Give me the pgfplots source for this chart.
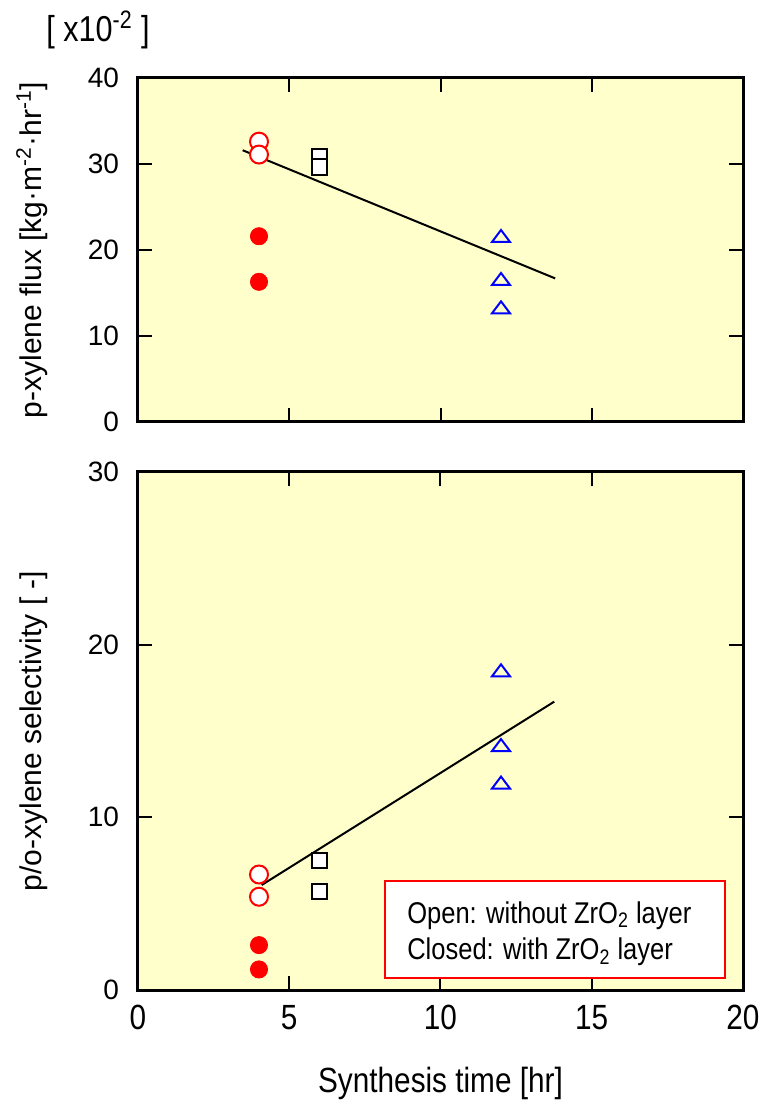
\documentclass[border=0pt]{standalone}
\usepackage{pgfplots}
\pgfplotsset{compat=1.18}
\usepackage{fontspec}
\setmainfont{Liberation Sans}
\newfontfamily\narrowfont{Liberation Sans}[FakeStretch=0.85]
\definecolor{bgyellow}{RGB}{255,255,204}

\pgfplotstableread{
x y
4 32.6
4 31.1
}\topopen
\pgfplotstableread{
x y
4 21.6
4 16.3
}\topclosed
\pgfplotstableread{
x y
6 30.9
6 29.65
}\topsq
\pgfplotstableread{
x y
12 21.4
12 16.4
12 13.1
}\toptri
\pgfplotstableread{
x y
4 6.69
4 5.40
}\botopen
\pgfplotstableread{
x y
4 2.6
4 1.19
}\botclosed
\pgfplotstableread{
x y
6 7.52
6 5.69
}\botsq
\pgfplotstableread{
x y
12 18.4
12 14.07
12 11.9
}\bottri

\pgfplotsset{
  mystyle/.style={
    scale only axis,
    width=302.5pt,
    xmin=0, xmax=20,
    xtick={0,5,10,15,20},
    axis background/.style={fill=bgyellow},
    axis line style={line width=1.5pt},
    tick align=inside,
    tick style={line width=1pt, black},
    major tick length=7pt,
    /pgf/number format/assume math mode=true,
    yticklabel style={font=\fontsize{14}{14}\selectfont, xshift=-6pt},
    xticklabel style={font=\narrowfont\fontsize{17.5}{17.5}\selectfont, yshift=-4pt},
    ylabel style={font=\fontsize{15}{15}\selectfont, at={(rel axis cs:0,0.5)}, anchor=south, inner sep=0pt, yshift=45pt},
    clip=false,
  },
  openc/.style={only marks, mark=*, mark size=4.5pt, mark options={draw=red, fill=white, line width=1pt}},
  closedc/.style={only marks, mark=*, mark size=4.3pt, mark options={draw=red, fill=red, line width=0.4pt}},
  sq/.style={only marks, mark=square*, mark size=3.8pt, mark options={draw=black, fill=white, line width=1pt}},
  tri/.style={only marks, mark=triangle, mark size=4pt, mark options={draw=blue, line width=1pt, xscale=1.3}},
}

\begin{document}
\begin{tikzpicture}
\begin{axis}[mystyle, name=bot, at={(0,0)}, anchor=south west,
  height=259pt, ymin=0, ymax=30, ytick={0,10,20,30},
  ylabel={p/o-xylene selectivity [ -]},
  xlabel={Synthesis time [hr]},
  xlabel style={font=\narrowfont\fontsize{17.5}{17.5}\selectfont, at={(axis description cs:0.5,0)}, anchor=center, yshift=-46.5pt},
]
\addplot[black, line width=1pt] coordinates {(4.09,6.08) (13.76,16.7)};
\addplot[openc] table[x=x,y=y] {\botopen};
\addplot[closedc] table[x=x,y=y] {\botclosed};
\addplot[sq] table[x=x,y=y] {\botsq};
\addplot[tri] table[x=x,y=y] {\bottri};
\draw[red, fill=white, line width=1pt] (axis cs:8.17,0.69) rectangle (axis cs:19.40,6.31);
\node[anchor=base west, inner sep=0pt, font=\narrowfont\fontsize{15}{15}\selectfont] at (axis cs:8.89,3.88) {Open: without ZrO\textsubscript{2} layer};
\node[anchor=base west, inner sep=0pt, font=\narrowfont\fontsize{15}{15}\selectfont] at (axis cs:8.89,1.74) {Closed: with ZrO\textsubscript{2} layer};
\end{axis}
\begin{axis}[mystyle, name=top, at={(0,284pt)}, anchor=south west,
  height=172pt, ymin=0, ymax=40, ytick={0,10,20,30,40},
  xticklabels={},
  ylabel={p-xylene flux [kg·m\textsuperscript{-2}·hr\textsuperscript{-1}]},
]
\addplot[black, line width=1pt] coordinates {(3.46,31.6) (13.79,16.7)};
\addplot[openc] table[x=x,y=y] {\topopen};
\addplot[closedc] table[x=x,y=y] {\topclosed};
\addplot[sq] table[x=x,y=y] {\topsq};
\addplot[tri] table[x=x,y=y] {\toptri};
\end{axis}
\node[font=\narrowfont\fontsize{18}{18}\selectfont, anchor=center] at (-20pt,480pt) {[ x10\textsuperscript{-2} ]};
\pgfresetboundingbox
\path[use as bounding box] (-69pt,-57pt) rectangle (311pt,495pt);
\end{tikzpicture}
\end{document}
